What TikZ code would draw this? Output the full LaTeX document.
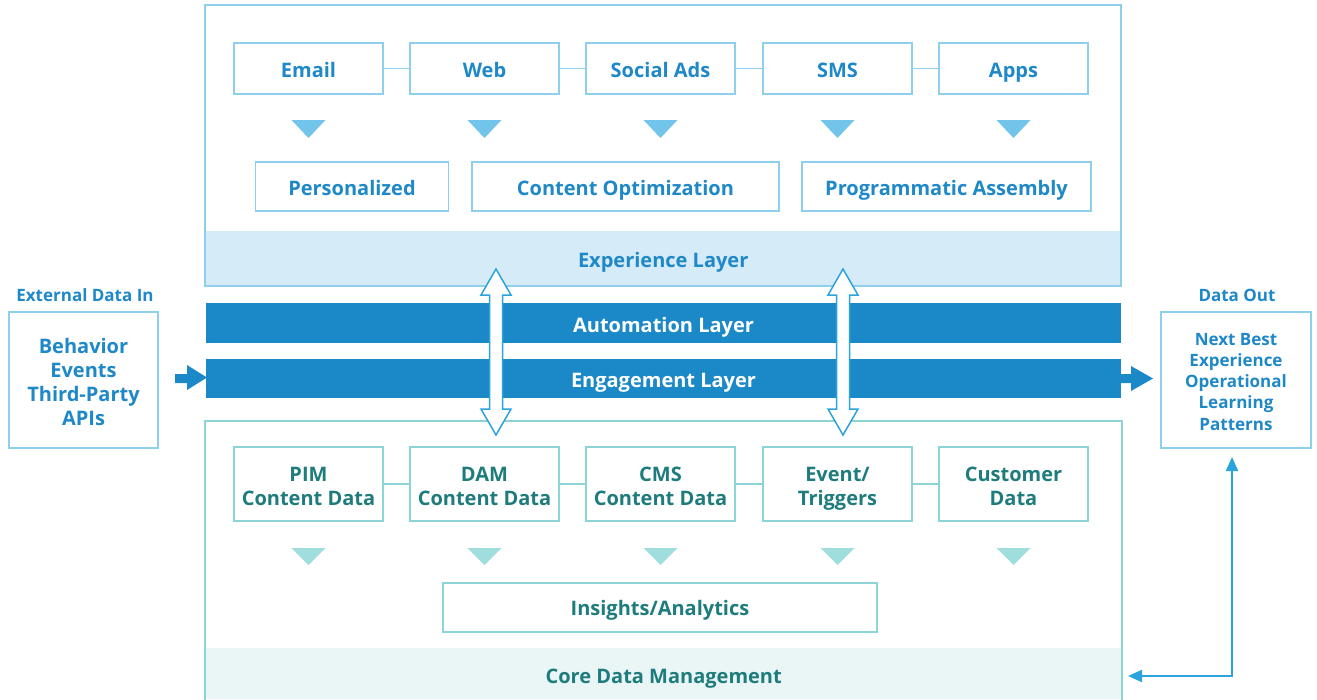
\documentclass[tikz,border=0pt]{standalone}
\usepackage{fontspec}
\setmainfont{Open Sans}
\usetikzlibrary{calc,arrows.meta}

\definecolor{blueTxt}{HTML}{1E88C8}
\definecolor{tealTxt}{HTML}{1E7C7C}
\definecolor{blueLine}{HTML}{8ED0EC}
\definecolor{tealLine}{HTML}{8CD4D6}
\definecolor{blueBand}{HTML}{D5EBF7}
\definecolor{tealBand}{HTML}{EAF6F6}
\definecolor{barBlue}{HTML}{1B88C8}
\definecolor{triBlue}{HTML}{72C4EA}
\definecolor{triTeal}{HTML}{A0DEDE}
\definecolor{arrowLine}{HTML}{2BA3DC}

\tikzset{
  bigfont/.style={font=\fontsize{20}{24}\selectfont\bfseries},
  smallfont/.style={font=\fontsize{17}{21.25}\selectfont\bfseries},
  % fixed text boxes so that the capitals sit at the same height everywhere
  oneline/.style={text height=17.3pt, text depth=0pt},
  twolines/.style={text height=42.3pt, text depth=0pt},
  topbox/.style={draw=blueLine, line width=1.5, fill=white, inner sep=0,
    minimum width=149, minimum height=51, bigfont, text=blueTxt, align=center},
  botbox/.style={draw=tealLine, line width=1.5, fill=white, inner sep=0,
    minimum width=149, minimum height=74, bigfont, text=tealTxt, align=center},
  bar/.style={fill=barBlue, inner sep=0, minimum width=915, minimum height=40,
    bigfont, text=white, text height=18.3pt, text depth=0pt},
  sidebox/.style={draw=blueLine, line width=1.5, inner sep=0, minimum width=149,
    minimum height=136, text=blueTxt, align=center},
  toplink/.style={draw=blueLine, line width=1.5},
  botlink/.style={draw=tealLine, line width=1.5},
  dblarrow/.style={draw=arrowLine, fill=white, line width=1.5, line join=miter},
  flowarrow/.style={fill=barBlue},
  fb/.style={draw=arrowLine, line width=2,
    {Triangle[length=14,width=12]}-{Triangle[length=14,width=12]}},
}

\begin{document}
\begin{tikzpicture}[x=1pt,y=-1pt]
\useasboundingbox (0,0) rectangle (1317,699);
\fill[white] (0,0) rectangle (1317,699);

% ---------- experience layer ----------
\node[fill=blueBand, inner sep=0, minimum width=916, minimum height=55,
  anchor=north west, bigfont, oneline, text=blueTxt] (expband) at (205,231) {Experience Layer};
\draw[blueLine, line width=1.5] (205,5) rectangle (1121,286);

\node[topbox, oneline] (email)  at (308.5,68.5) {Email};
\node[topbox, oneline] (web)    at (484.5,68.5) {Web};
\node[topbox, oneline] (social) at (660.5,68.5) {Social Ads};
\node[topbox, oneline] (sms)    at (837.5,68.5) {SMS};
\node[topbox, oneline] (apps)   at (1013.5,68.5) {Apps};
\draw[toplink] (email) -- (web);
\draw[toplink] (web) -- (social);
\draw[toplink] (social) -- (sms);
\draw[toplink] (sms) -- (apps);

\foreach \cx in {308.5,484.5,660.5,837.5,1013.5}
  \fill[triBlue] (\cx-17,120) -- (\cx+17,120) -- (\cx,138) -- cycle;

\node[topbox, oneline, minimum width=193, minimum height=49] (pers) at (352,186.5) {Personalized};
\node[topbox, oneline, minimum width=307, minimum height=49] (copt) at (625.5,186.5) {Content Optimization};
\node[topbox, oneline, minimum width=289, minimum height=49] (prog) at (946.5,186.5) {Programmatic Assembly};

% ---------- core data management ----------
\node[fill=tealBand, inner sep=0, minimum width=917, minimum height=51,
  anchor=north west, bigfont, text height=19.3pt, text depth=0pt, text=tealTxt] (coreband) at (205,648) {Core Data Management};
\draw[tealLine, line width=1.5] (205,705) -- (205,421) -- (1122,421) -- (1122,705);

\node[botbox, twolines] (pim)  at (308.5,484) {PIM\\Content Data};
\node[botbox, twolines] (dam)  at (484.5,484) {DAM\\Content Data};
\node[botbox, twolines] (cms)  at (660.5,484) {CMS\\Content Data};
\node[botbox, twolines] (evt)  at (837.5,484) {Event/\\Triggers};
\node[botbox, twolines] (cust) at (1013.5,484) {Customer\\Data};
\draw[botlink] (pim) -- (dam);
\draw[botlink] (dam) -- (cms);
\draw[botlink] (cms) -- (evt);
\draw[botlink] (evt) -- (cust);

\foreach \cx in {308.5,484.5,660.5,837.5,1013.5}
  \fill[triTeal] (\cx-17,548) -- (\cx+17,548) -- (\cx,565) -- cycle;

\node[botbox, oneline, text height=15.3pt, minimum width=434, minimum height=49] (ins) at (660,607.5) {Insights/Analytics};

% ---------- middle bars ----------
\node[bar] (auto) at (663.5,323) {Automation Layer};
\node[bar, minimum height=39, text height=17.3pt] (eng) at (663.5,378.5) {Engagement Layer};

% double arrows linking experience and core layers
\foreach \cx in {496,843}
  \draw[dblarrow] (\cx,269) -- (\cx+15,295) -- (\cx+6.5,295) -- (\cx+6.5,409)
    -- (\cx+15,409) -- (\cx,435) -- (\cx-15,409) -- (\cx-6.5,409)
    -- (\cx-6.5,295) -- (\cx-15,295) -- cycle;

% ---------- external data in ----------
\node[smallfont, text height=12.1pt, text depth=0pt, text=blueTxt] (inlabel) at (85,295) {External Data In};
\node[sidebox, bigfont, text height=90.3pt, text depth=0pt] (ext) at (83.5,380) {Behavior\\Events\\Third-Party\\APIs};
\fill[flowarrow] (175,374) -- (187,374) -- (187,365) -- (207,377.5)
  -- (187,390) -- (187,383) -- (175,383) -- cycle;

% ---------- data out ----------
\node[smallfont, text height=12.1pt, text depth=0pt, text=blueTxt] (outlabel) at (1237,295) {Data Out};
\node[sidebox, smallfont, minimum width=150, text height=100.1pt, text depth=0pt] (dataout) at (1236,380)
  {Next Best\\Experience\\Operational\\Learning\\Patterns};
\fill[flowarrow] (1121,374) -- (1131,374) -- (1131,366) -- (1153,378.5)
  -- (1131,391) -- (1131,383) -- (1121,383) -- cycle;

% feedback loop from data out to core data management
\coordinate (fbin) at (1128,676);
\coordinate (fbout) at (1232,457);
\draw[fb] (fbin) -| (fbout);
\end{tikzpicture}
\end{document}
